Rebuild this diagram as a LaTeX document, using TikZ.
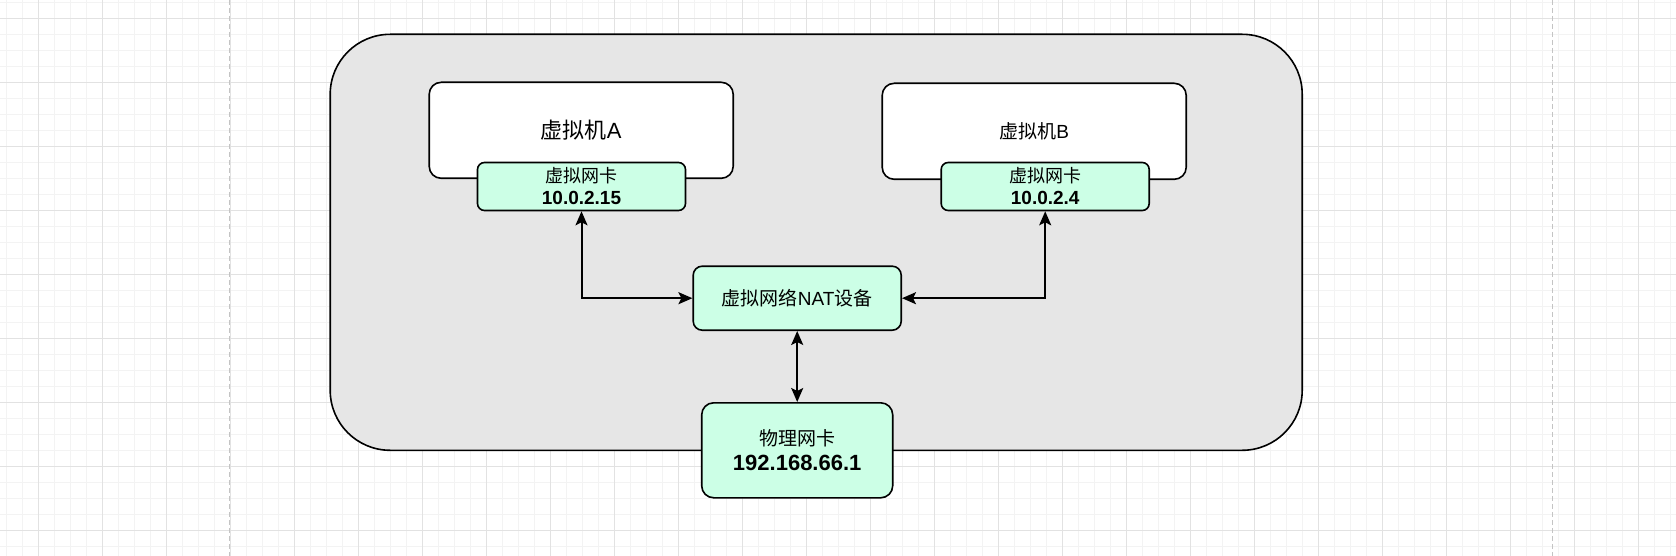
\documentclass[tikz,border=0pt]{standalone}
\usepackage{fontspec}
\setmainfont{Liberation Sans}
\newfontfamily\cjk{Noto Sans CJK SC}
\usetikzlibrary{arrows.meta}
\definecolor{nicgreen}{HTML}{CCFFE6}
\definecolor{hostgray}{HTML}{E6E6E6}
\definecolor{minorgrid}{HTML}{F3F3F3}
\definecolor{majorgrid}{HTML}{E2E2E2}
\definecolor{dashgray}{HTML}{C4C4C4}
\tikzset{
  box/.style={draw=black, line width=1.6pt, inner sep=0pt, align=center, text=black},
  vmbox/.style={box, fill=white, rounded corners=12pt, minimum width=304pt, minimum height=96pt},
  nicbox/.style={box, fill=nicgreen, rounded corners=7pt, minimum width=208pt, minimum height=48pt, font=\fontsize{18}{22}\selectfont},
  conn/.style={line width=2pt, {Stealth[length=14pt,width=12pt,inset=3pt]}-{Stealth[length=14pt,width=12pt,inset=3pt]}},
}
\begin{document}
\begin{tikzpicture}[x=1pt,y=-1pt]
\useasboundingbox (0,0) rectangle (1676,556);
\fill[white] (0,0) rectangle (1676,556);
% grid
\foreach \x in {6.3,22.3,...,1676} \draw[minorgrid, line width=0.8pt] (\x,0) -- (\x,556);
\foreach \y in {2.3,18.3,...,556} \draw[minorgrid, line width=0.8pt] (0,\y) -- (1676,\y);
\foreach \x in {38.3,102.3,...,1676} \draw[majorgrid, line width=0.9pt] (\x,0) -- (\x,556);
\foreach \y in {18.3,82.3,...,556} \draw[majorgrid, line width=0.9pt] (0,\y) -- (1676,\y);
\draw[dashgray, line width=1.2pt, dash pattern=on 5pt off 3pt] (229.3,0) -- (229.3,556);
\draw[dashgray, line width=1.2pt, dash pattern=on 5pt off 3pt] (1552.3,0) -- (1552.3,556);
% host
\node[box, fill=hostgray, rounded corners=60pt, minimum width=972pt, minimum height=416pt] (host) at (816.2,242.3) {};
% VMs
\node[vmbox, font=\fontsize{22}{26}\selectfont] (vmA) at (581.2,130.3) {{\cjk 虚拟机}A};
\node[vmbox, font=\fontsize{19}{23}\selectfont] (vmB) at (1034.2,131.3) {{\cjk 虚拟机}B};
\node[nicbox] (nicA) at (581.5,186.5) {{\cjk 虚拟网卡}\\[0pt]{\fontsize{19}{22}\selectfont\bfseries 10.0.2.15}};
\node[nicbox] (nicB) at (1045.2,186.5) {{\cjk 虚拟网卡}\\[0pt]{\fontsize{19}{22}\selectfont\bfseries 10.0.2.4}};
\node[box, fill=nicgreen, rounded corners=9pt, minimum width=208pt, minimum height=64pt, font=\fontsize{19}{23}\selectfont] (nat) at (797.2,298.2) {{\cjk 虚拟网络}NAT{\cjk 设备}};
\node[box, fill=nicgreen, rounded corners=12pt, minimum width=191pt, minimum height=95pt, font=\fontsize{19}{25.5}\selectfont] (phys) at (797.2,450.3) {{\cjk 物理网卡}\\[0pt]{\fontsize{22}{25.5}\selectfont\bfseries 192.168.66.1}};
% connectors
\draw[conn] (nicA.south) |- (nat.west);
\draw[conn] (nicB.south) |- (nat.east);
\draw[conn] (nat.south) -- (phys.north);
\end{tikzpicture}
\end{document}
